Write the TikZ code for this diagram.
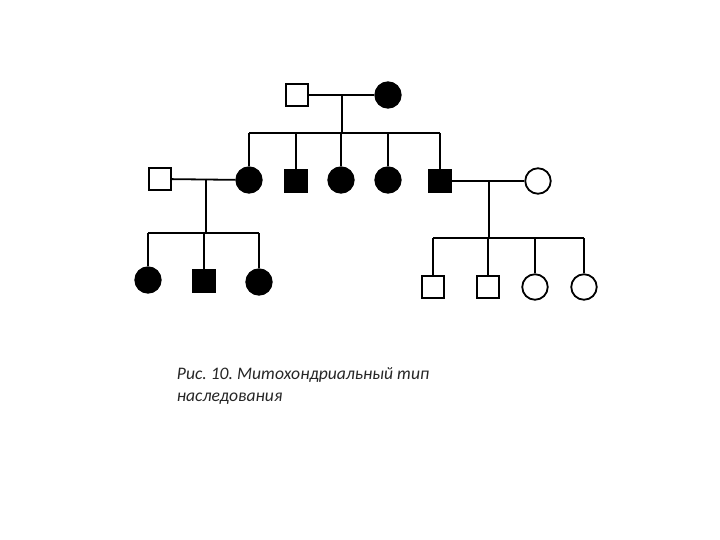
\documentclass[tikz,border=0pt]{standalone}
\usepackage{fontspec}
\setmainfont{Carlito}
\frenchspacing
\begin{document}
\begin{tikzpicture}[x=1pt,y=-1pt,line width=1.8pt,
  male/.style={draw,rectangle,minimum size=22.5pt,inner sep=0pt},
  female/.style={draw,circle,minimum size=25.5pt,inner sep=0pt},
  ill/.style={fill=black}]
\useasboundingbox (0,0) rectangle (720,540);
% generation I
\node[male] (a1) at (297,95) {};
\node[female,ill] (a2) at (388,95) {};
\draw (a1) -- (a2);
\coordinate (m1) at (342,95);
\coordinate (s1) at (342,133);
\draw (m1) -- (s1);

% generation II
\node[male] (b1) at (160,179) {};
\node[female,ill] (b2) at (249,180) {};
\node[male,ill] (b3) at (296,181) {};
\node[female,ill] (b4) at (341,180) {};
\node[female,ill] (b5) at (388,180) {};
\node[male,ill] (b6) at (440,181) {};
\node[female] (b7) at (538,181) {};
\draw (b2 |- s1) -- (b6 |- s1);
\foreach \k in {2,...,6}
  \draw (b\k |- s1) -- (b\k);
\draw (b1) -- (b2);
\draw (b6) -- (b7);

% left family
\coordinate (m2) at (206,179);
\coordinate (s2) at (206,233);
\draw (m2) -- (s2);
\node[female,ill] (c1) at (148,280) {};
\node[male,ill] (c2) at (204,281) {};
\node[female,ill] (c3) at (259,282) {};
\draw (c1 |- s2) -- (c3 |- s2);
\foreach \k in {1,2,3}
  \draw (c\k |- s2) -- (c\k);

% right family
\coordinate (m3) at (489,181);
\coordinate (s3) at (489,238);
\draw (m3) -- (s3);
\node[male] (d1) at (433,287) {};
\node[male] (d2) at (488,287) {};
\node[female] (d3) at (535,287) {};
\node[female] (d4) at (584,287) {};
\draw (d1 |- s3) -- (d4 |- s3);
\foreach \k in {1,...,4}
  \draw (d\k |- s3) -- (d\k);

\node[anchor=north west,align=left,inner sep=0pt,text=black!85,
  font=\itshape\fontsize{17.6}{22}\selectfont] (cap) at (176,367)
  {Рис. 10. Митохондриальный тип\\наследования};
\end{tikzpicture}
\end{document}
